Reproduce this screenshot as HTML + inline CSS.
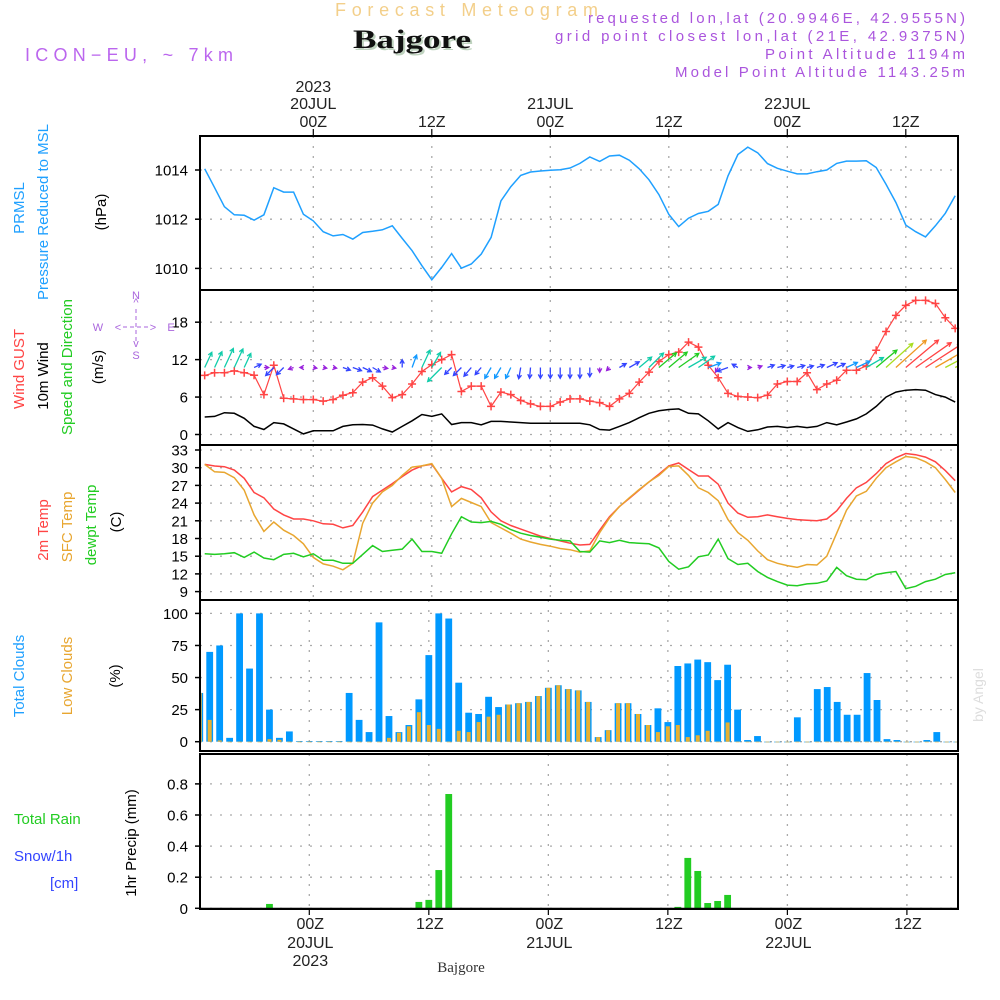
<!DOCTYPE html>
<html><head><meta charset="utf-8"><style>
html,body{margin:0;padding:0;background:#fff;}
svg{display:block;font-family:"Liberation Sans",sans-serif;}
</style></head><body>
<svg id="chart" xmlns="http://www.w3.org/2000/svg" width="1000" height="1000" viewBox="0 0 1000 1000">
<rect x="0" y="0" width="1000" height="1000" fill="#fff"/>
<text x="335" y="16" font-size="18" fill="#f3cf8a" textLength="263" lengthAdjust="spacing">Forecast Meteogram</text>
<text x="355" y="50" font-size="26" font-weight="bold" font-family="Liberation Serif,serif" fill="#bfd3bf" textLength="118" lengthAdjust="spacingAndGlyphs">Bajgore</text>
<text x="353" y="48" font-size="26" font-weight="bold" font-family="Liberation Serif,serif" fill="#111" textLength="118" lengthAdjust="spacingAndGlyphs">Bajgore</text>
<text x="25" y="61" font-size="18" fill="#bb66ee" textLength="208" lengthAdjust="spacing">ICON−EU, ~ 7km</text>
<text x="588" y="23" font-size="15" fill="#aa55dd" textLength="377" lengthAdjust="spacing">requested lon,lat (20.9946E, 42.9555N)</text>
<text x="555" y="41" font-size="15" fill="#aa55dd" textLength="410" lengthAdjust="spacing">grid point closest lon,lat (21E, 42.9375N)</text>
<text x="765" y="59" font-size="15" fill="#aa55dd" textLength="200" lengthAdjust="spacing">Point Altitude 1194m</text>
<text x="675" y="77" font-size="15" fill="#aa55dd" textLength="290" lengthAdjust="spacing">Model Point Altitude 1143.25m</text>
<g id="plot"></g>
</svg>
<script>
const hours = [];
for (let h = -11; h <= 65; h++) hours.push(h);
const pressure = [1014.05,1013.28,1012.51,1012.18,1012.16,1011.96,1012.18,1013.28,1013.1,1013.1,1012.2,1011.93,1011.49,1011.32,1011.38,1011.19,1011.46,1011.51,1011.57,1011.73,1011.22,1010.72,1010.11,1009.54,1010.04,1010.6,1010.01,1010.18,1010.58,1011.26,1012.74,1013.32,1013.78,1013.92,1013.96,1013.99,1014.01,1014.08,1014.27,1014.53,1014.35,1014.57,1014.6,1014.4,1014.05,1013.6,1013.0,1012.2,1011.7,1012.04,1012.23,1012.32,1012.6,1013.76,1014.63,1014.93,1014.7,1014.26,1014.07,1013.95,1013.84,1013.84,1013.93,1014.0,1014.27,1014.36,1014.36,1014.38,1014.1,1013.42,1012.68,1011.76,1011.49,1011.28,1011.73,1012.24,1012.95];
const gust = [9.47,9.9,9.9,10.2,9.9,9.5,6.4,11.1,5.8,5.7,5.6,5.6,5.35,5.6,6.3,6.7,8.4,9.1,7.75,5.9,6.4,8.1,10.1,11.2,12.0,12.8,6.9,7.75,7.75,4.5,6.8,6.4,5.45,4.9,4.5,4.5,5.2,5.7,5.7,5.35,5.1,4.5,5.7,6.6,8.4,10.0,11.7,12.8,13.2,14.8,14.0,11.1,9.1,6.6,6.1,6.0,5.9,6.3,8.1,8.5,8.5,9.9,7.2,8.1,8.7,10.3,10.3,11.0,13.5,16.5,19.1,20.7,21.5,21.5,21.0,18.7,17.0];
const wind10m = [2.8,2.9,3.5,3.4,2.6,1.3,0.8,1.9,1.7,0.9,0.1,0.6,0.6,0.6,1.3,1.55,1.6,1.5,0.9,0.4,1.3,2.2,3.2,2.9,3.3,1.6,1.9,1.9,1.55,2.1,2.1,2.0,1.9,1.8,1.8,1.8,1.8,1.8,1.8,1.55,0.8,0.7,1.3,1.9,2.7,3.4,3.8,4.0,4.1,3.4,3.3,2.2,0.9,1.9,1.1,0.5,0.75,1.2,1.3,1.1,1.3,1.1,1.3,1.9,1.55,2.0,2.5,3.3,4.5,6.0,6.8,7.1,7.2,7.1,6.4,6.0,5.2];
const windDir = [65,65,65,65,65,25,0,225,225,200,180,-10,-10,-10,-20,-20,-25,-30,-10,-10,90,70,65,60,225,225,225,230,230,240,240,245,260,265,270,270,270,270,270,270,270,225,30,30,40,45,40,40,35,30,35,20,240,200,150,0,20,20,15,15,15,15,20,25,25,25,25,30,40,42,42,40,35,33,30,28,28];
const temp2m = [30.56,30.28,30.17,29.6,28.2,25.8,24.9,23.0,22.0,21.3,21.3,21.0,20.5,20.4,19.8,20.2,22.5,25.1,26.2,27.3,28.5,29.6,30.3,30.6,28.2,25.9,26.8,26.3,24.9,22.5,21.0,20.2,19.6,19.0,18.4,18.0,17.6,17.2,16.9,17.0,19.4,21.7,23.4,24.8,26.2,27.6,28.9,30.3,30.8,29.7,28.6,28.6,27.2,24.0,22.3,21.6,21.7,22.0,21.7,21.4,21.2,21.1,21.0,21.3,22.7,24.8,26.6,27.5,29.0,30.7,31.7,32.4,32.2,31.8,31.0,29.5,27.8];
const tempSfc = [30.56,29.3,29.2,28.3,26.2,22.0,19.2,20.8,19.4,18.5,17.1,14.8,13.7,13.3,12.7,13.8,20.6,24.0,25.9,27.0,28.7,30.1,30.3,30.7,28.2,23.4,24.8,24.1,23.4,20.7,19.8,18.9,17.9,17.4,17.0,16.7,16.3,16.1,15.7,15.9,19.0,21.5,23.4,24.9,26.3,27.6,28.7,30.2,30.3,28.7,26.6,25.8,24.4,21.2,19.0,17.7,15.9,14.4,13.8,13.4,13.1,13.6,13.5,15.0,18.9,22.8,25.2,26.0,28.2,30.0,31.0,31.9,31.7,31.0,30.0,28.0,25.8];
const dewpt = [15.4,15.3,15.4,15.6,14.8,15.7,14.7,14.4,15.3,15.5,14.9,15.4,14.3,14.3,13.8,13.8,15.3,16.8,15.8,16.0,16.2,17.9,15.8,15.8,15.5,18.8,21.7,20.8,20.7,20.9,20.4,19.5,18.9,18.5,18.2,17.9,17.7,17.6,15.8,15.7,17.6,17.3,17.7,17.3,17.2,17.1,16.4,14.1,12.8,13.2,14.9,15.2,17.9,14.6,13.6,13.8,12.4,11.4,10.7,10.1,10.0,10.3,10.4,10.8,13.1,11.7,11.1,11.0,11.9,12.2,12.4,9.5,9.9,10.7,11.1,11.9,12.2];
const totalClouds = [38,70,75,3,100,57,100,25,3,8,0.5,0.5,0.5,0.5,0.5,38,17,7.5,93,20,7.5,13,33,67.5,100,96,46,22.6,21.6,35,27,29,30,31,35.6,42,44,41,40,31,3.6,9,30,30,21.6,13,26,15.3,59,61,64,62,48,60,25,1.3,4.4,0,0,0,19,0,41,42.6,31,21,21,53.5,32.5,2,1.3,0,0,1.3,7.5,0,0];
const lowClouds = [38,17,1,0,0,0,0,2,1.5,0,0,0,0,0,0,0,0,0,0,3,7,12,23,13,10,0,8.5,7.5,15.3,19.5,21,29,30,31,35.6,42,44,41,40,31,3.6,9,30,30,21.6,13,7.5,12,13,3.6,5,8.5,0,15,0,0,0,0,0,0,0,0,0,0,0,0,0,0,0,0,0,0,0,0,0,0,0];
const rainHours = [-4,11,12,13,14,37,38,39,40,41,42];
const rainValues = [0.028,0.041,0.054,0.246,0.735,0.009,0.324,0.24,0.034,0.047,0.086];
const pTicks = [1010,1012,1014];
const wTicks = [0,6,12,18];
const tTicks = [9,12,15,18,21,24,27,30,33];
const cTicks = [0,25,50,75,100];
const rTicks = [0,0.2,0.4,0.6,0.8];
const timeTicks = [0,12,24,36,48,60];
const timeLabels = ["00Z","12Z","00Z","12Z","00Z","12Z"];
const dateLabels = ["20JUL","","21JUL","","22JUL",""];

const NS = "http://www.w3.org/2000/svg";
const plot = document.getElementById('plot');
const X0 = 200, X1 = 958;
function xT(t){ return 313.3 + 9.875 * t; }
function xB(t){ return 309.3 + 9.96 * t; }
function yP(p){ return 170 + (1014 - p) * 24.6; }
function yW(v){ return 434.5 - 6.24 * v; }
function yT(c){ return 467.7 - (c - 30) * 5.9; }
function yC(c){ return 741.7 - 1.283 * c; }
function yR(v){ return 908.3 - 155.5 * v; }
function mk(tag, attrs, parent){
  const e = document.createElementNS(NS, tag);
  for (const k in attrs) e.setAttribute(k, attrs[k]);
  (parent || plot).appendChild(e);
  return e;
}
function txt(x, y, s, attrs){
  const e = mk('text', Object.assign({x:x, y:y}, attrs||{}));
  e.textContent = s;
  return e;
}
const clip = mk('clipPath', {id:'clipArea'});
mk('rect', {x:X0, y:130, width:X1-X0, height:790}, clip);

const panels = [
  {name:'pressure', y0:136, y1:290, ticks:pTicks, ys:yP, xf:xT, fmt:v=>String(v)},
  {name:'wind', y0:290, y1:445, ticks:wTicks, ys:yW, xf:xT, fmt:v=>String(v)},
  {name:'temperature', y0:445, y1:600, ticks:tTicks, ys:yT, xf:xT, fmt:v=>String(v)},
  {name:'clouds', y0:600, y1:751, ticks:cTicks, ys:yC, xf:xB, fmt:v=>String(v)},
  {name:'precip', y0:754, y1:909, ticks:rTicks, ys:yR, xf:xB, fmt:v=>v===0?'0':v.toFixed(1)}
];
panels.forEach(P => {
  const g = mk('g', {});
  
  
  P.ticks.forEach(v => {
    const y = P.ys(v);
    const gl = mk('line', {x1:X0, x2:X1, y1:y, y2:y, stroke:'#aaa', 'stroke-width':1.3, 'stroke-dasharray':'2 8'}, g);
    
    
    mk('line', {x1:X0-5, x2:X0, y1:y, y2:y, stroke:'#000', 'stroke-width':1.5}, g);
    const lb = txt(188, y + 5.5, P.fmt(v), {'font-size':15, 'text-anchor':'end', fill:'#000'});
    g.appendChild(lb);
    
    
  });
  timeTicks.forEach(t => {
    const x = P.xf(t);
    const vl = mk('line', {x1:x, x2:x, y1:P.y0, y2:P.y1, stroke:'#aaa', 'stroke-width':1.3, 'stroke-dasharray':'2 8'}, g);
    
    
  });
});

function linePath(vals, xf, yf){
  return vals.map((v,i)=>(i?'L':'M') + xf(hours[i]).toFixed(1) + ',' + yf(v).toFixed(1)).join(' ');
}
const pl = mk('path', {d:linePath(pressure, xT, yP), fill:'none', stroke:'#1fa0ff', 'stroke-width':1.5});



const wl = mk('path', {d:linePath(wind10m, xT, yW), fill:'none', stroke:'#000', 'stroke-width':1.5});


const gl2 = mk('path', {d:linePath(gust, xT, yW), fill:'none', stroke:'#ff4444', 'stroke-width':1.2});


gust.forEach((v,i) => {
  const x = xT(hours[i]), y = yW(v);
  const m = mk('path', {d:`M${x-4},${y}H${x+4}M${x},${y-4}V${y+4}`, stroke:'#ff4444', 'stroke-width':1.5});
  
  
});
function windColor(s){
  if (s < 1) return '#9922dd';
  if (s < 2) return '#3344ff';
  if (s < 2.6) return '#1199ff';
  if (s < 3.6) return '#11ccaa';
  if (s < 4.6) return '#22cc22';
  if (s < 6.2) return '#aadd22';
  if (s < 7.0) return '#ee9922';
  return '#ff4444';
}
const ag = mk('g', {'clip-path':'url(#clipArea)'});


wind10m.forEach((s,i) => {
  const x = xT(hours[i]), y = 367.5;
  const L = Math.max(3.5, s * 6);
  const a = windDir[i] * Math.PI / 180;
  const x2 = x + L*Math.cos(a), y2 = y - L*Math.sin(a);
  const h = 4.5, ha = 0.5;
  const b1 = a + Math.PI - ha, b2 = a + Math.PI + ha;
  const d = `M${x.toFixed(1)},${y.toFixed(1)}L${x2.toFixed(1)},${y2.toFixed(1)}M${(x2+h*Math.cos(b1)).toFixed(1)},${(y2-h*Math.sin(b1)).toFixed(1)}L${x2.toFixed(1)},${y2.toFixed(1)}L${(x2+h*Math.cos(b2)).toFixed(1)},${(y2-h*Math.sin(b2)).toFixed(1)}`;
  const ar = mk('path', {d:d, fill:'none', stroke:windColor(s), 'stroke-width':1.3}, ag);
  
  
});

[[temp2m,'#ff4444','temp-2m-line'],[tempSfc,'#e8a630','temp-sfc-line'],[dewpt,'#22cc22','dewpoint-line']].forEach(s => {
  const e = mk('path', {d:linePath(s[0], xT, yT), fill:'none', stroke:s[1], 'stroke-width':1.5});
  
  
});

const cg = mk('g', {'clip-path':'url(#clipArea)'});
totalClouds.forEach((v,i) => {
  const x = xB(hours[i]);
  const r = mk('rect', {x:x-3.4, y:yC(v), width:6.8, height:Math.max(0.6, yC(0)-yC(v)), fill:'#0099ff'}, cg);
  
  
  const lv = lowClouds[i];
  const r2 = mk('rect', {x:x-2, y:yC(lv), width:4, height:Math.max(0.6, yC(0)-yC(lv)), fill:'#e8b030'}, cg);
  
  
});

rainValues.forEach((v,i) => {
  const x = xB(rainHours[i]);
  const r = mk('rect', {x:x-3.4, y:yR(v), width:6.8, height:yR(0)-yR(v), fill:'#22cc22'});
  
  
});
mk('line', {x1:X0, x2:X1, y1:908.5, y2:908.5, stroke:'#000', 'stroke-width':1.5});

panels.forEach(P => {
  const f = mk('rect', {x:X0, y:P.y0, width:X1-X0, height:P.y1-P.y0, fill:'none', stroke:'#000', 'stroke-width':2});
  
  
});

timeTicks.forEach((t,i) => {
  const x = xT(t);
  mk('line', {x1:x, x2:x, y1:129, y2:136, stroke:'#000', 'stroke-width':1.2});
  const l = txt(x, 127, timeLabels[i], {'font-size':16, 'text-anchor':'middle', fill:'#222'});
  
  
  if (dateLabels[i]) {
    const d = txt(x, 109, dateLabels[i], {'font-size':16, 'text-anchor':'middle', fill:'#222'});
    
    
  }
  const xb = xB(t);
  mk('line', {x1:xb, x2:xb, y1:909, y2:915, stroke:'#000', 'stroke-width':1.2});
  const lb = txt(xb + 1, 929, timeLabels[i], {'font-size':16, 'text-anchor':'middle', fill:'#222'});
  
  
  if (dateLabels[i]) {
    const db = txt(xb + 1, 948, dateLabels[i], {'font-size':16, 'text-anchor':'middle', fill:'#222'});
    
    
  }
});
const y1 = txt(xT(0), 92, '2023', {'font-size':16, 'text-anchor':'middle', fill:'#222'});


const y2 = txt(xB(0)+1, 966, '2023', {'font-size':16, 'text-anchor':'middle', fill:'#222'});


const bl = txt(461, 972, 'Bajgore', {'font-size':15, 'text-anchor':'middle', fill:'#333', 'font-family':'Liberation Serif,serif'});



function vlabel(x, y, s, color, name, size){
  const e = txt(0, 0, s, {'font-size':size||15, 'text-anchor':'middle', fill:color, transform:`translate(${x},${y}) rotate(-90)`});
  
  
}
vlabel(24, 208, 'PRMSL', '#1fa0ff', 'prmsl-title');
vlabel(48, 212, 'Pressure Reduced to MSL', '#1fa0ff', 'pressure-title');
vlabel(106, 212, '(hPa)', '#000', 'pressure-unit');
vlabel(24, 369, 'Wind GUST', '#ff4444', 'gust-title');
vlabel(48, 376, '10m Wind', '#000', 'wind-title');
vlabel(72, 367, 'Speed and Direction', '#22cc22', 'wind-direction-title');
vlabel(103, 367, '(m/s)', '#000', 'wind-unit');
vlabel(48, 530, '2m Temp', '#ff4444', 'temp-2m-title');
vlabel(72, 527, 'SFC Temp', '#e8a630', 'temp-sfc-title');
vlabel(96, 525, 'dewpt Temp', '#22cc22', 'dewpoint-title');
vlabel(121, 522, '(C)', '#000', 'temp-unit');
vlabel(24, 676, 'Total Clouds', '#1fa0ff', 'total-clouds-title');
vlabel(72, 676, 'Low Clouds', '#e8a630', 'low-clouds-title');
vlabel(120, 676, '(%)', '#000', 'clouds-unit');
vlabel(136, 843, '1hr Precip (mm)', '#000', 'precip-title');
vlabel(983, 695, 'by Angel', '#dddddd', 'watermark', 14);
const t1 = txt(14, 824, 'Total  Rain', {'font-size':15, fill:'#22cc22', 'xml:space':'preserve'});


const t2 = txt(14, 861, 'Snow/1h', {'font-size':15, fill:'#3344ff'});


const t3 = txt(50, 888, '[cm]', {'font-size':15, fill:'#3344ff'});



const cp = mk('g', {fill:'#aa66dd', 'font-size':11, 'text-anchor':'middle'});


[['N',136,299],['^',136,306],['W',98,331],['<',118,331],['>',153,331],['E',171,331],['v',136,347],['S',136,359]].forEach(c=>{
  const e = txt(c[1], c[2], c[0], {}); cp.appendChild(e);
});
mk('line', {x1:123, x2:149, y1:327, y2:327, stroke:'#aa66dd', 'stroke-width':1, 'stroke-dasharray':'4 3'}, cp);
mk('line', {x1:136, x2:136, y1:309, y2:343, stroke:'#aa66dd', 'stroke-width':1, 'stroke-dasharray':'4 3'}, cp);
</script>
</body></html>
